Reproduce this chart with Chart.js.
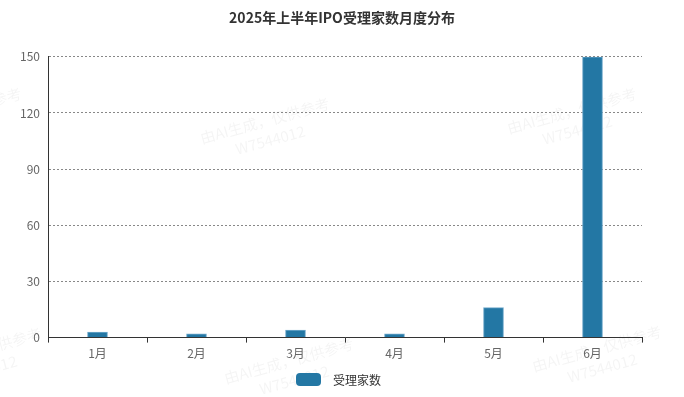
<!DOCTYPE html>
<html>
<head>
<meta charset="utf-8">
<script src="https://cdn.jsdelivr.net/npm/chart.js@4"></script>
<style>
  html, body { margin: 0; padding: 0; background: #fff; }
  #wrap { position: relative; width: 684px; height: 397px; }
  #legend { position: absolute; left: 296px; top: 371px; display: flex; align-items: center;
    font: 12px "Noto Sans CJK SC", "Noto Sans", sans-serif; color: #333; }
  #legend .box { width: 25px; height: 13px; border-radius: 4px; margin-right: 12px; }
</style>
</head>
<body>
<div id="wrap">
  <canvas id="myChart" width="684" height="397"></canvas>
  <div id="legend"></div>
</div>
<script>
const months = ['1月', '2月', '3月', '4月', '5月', '6月'];
const acceptCounts = [3, 2, 4, 2, 16, 150];
const seriesName = '受理家数';
const chartTitle = '2025年上半年IPO受理家数月度分布';
const yTicks = [0, 30, 60, 90, 120, 150];

const FONT = '"Noto Sans CJK SC", "Noto Sans", sans-serif';
const barColor = '#2377a4';

// faint watermark behind the chart
const watermark = {
  id: 'watermark',
  beforeDraw(chart) {
    const ctx = chart.ctx;
    const spots = [[-40, 122], [268, 132], [575, 122], [-20, 362], [292, 372], [600, 360]];
    ctx.save();
    ctx.fillStyle = 'rgba(0,0,0,0.045)';
    ctx.font = '15px ' + FONT;
    ctx.textAlign = 'center';
    spots.forEach(([x, y]) => {
      ctx.save();
      ctx.translate(x, y);
      ctx.rotate(-0.27);
      ctx.fillText('由AI生成，仅供参考', 0, -6);
      ctx.fillText('W7544012', 0, 14);
      ctx.restore();
    });
    ctx.restore();
  }
};

const ctx = document.getElementById('myChart').getContext('2d');
const myChart = new Chart(ctx, {
  type: 'bar',
  data: {
    labels: months,
    datasets: [{
      label: seriesName,
      data: acceptCounts,
      backgroundColor: barColor,
      borderColor: '#6fa8cb',
      borderWidth: 1,
      borderSkipped: 'bottom',
      barThickness: 20,
    }],
  },
  options: {
    responsive: false,
    animation: false,
    layout: { padding: { left: 0, right: 0, top: 0, bottom: 32 } },
    scales: {
      x: {
        offset: true,
        grid: {
          offset: true,
          display: true,
          drawOnChartArea: false,
          drawTicks: true,
          tickLength: 5,
          color: '#333',
        },
        border: { color: '#333', width: 1 },
        ticks: { color: '#666', font: { family: FONT, size: 12 }, padding: 4 },
      },
      y: {
        min: 0,
        max: 150,
        afterFit(scale) { scale.width = 48; },
        afterBuildTicks(scale) { scale.ticks = yTicks.map(v => ({ value: v })); },
        grid: {
          color: '#888',
          drawTicks: false,
        },
        border: { color: '#333', width: 1, dash: [2, 2] },
        ticks: { color: '#666', font: { family: FONT, size: 12 }, padding: 8 },
      },
      // empty right-hand spacer so the title stays centred on the canvas
      spacer: {
        position: 'right',
        afterFit(scale) { scale.width = 42; },
        grid: { display: false },
        border: { display: false },
        ticks: { display: false },
      },
    },
    plugins: {
      title: {
        display: true,
        text: chartTitle,
        color: '#333',
        font: { family: FONT, size: 14, weight: 'bold' },
        padding: { top: 9, bottom: 31 },
      },
      legend: { display: false },
      tooltip: { enabled: false },
    },
  },
  plugins: [watermark],
});

// legend below the chart, built from the dataset
const legendEl = document.getElementById('legend');
myChart.data.datasets.forEach(ds => {
  const box = document.createElement('span');
  box.className = 'box';
  box.style.background = ds.backgroundColor;
  const txt = document.createElement('span');
  txt.textContent = ds.label;
  legendEl.appendChild(box);
  legendEl.appendChild(txt);
});
</script>
</body>
</html>
